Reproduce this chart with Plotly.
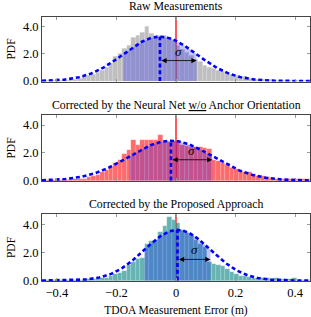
import numpy as np
import plotly.graph_objects as go

# ---- data ----
bin_width = 0.015
bin_centers = [round(-0.4425 + bin_width * i, 4) for i in range(60)]

raw_pdf = [0.02, 0.02, 0.03, 0.03, 0.05, 0.07, 0.10, 0.15, 0.20, 0.30,
           0.40, 0.50, 0.60, 0.80, 1.00, 1.30, 1.80, 2.00, 2.40, 2.60,
           3.20, 3.30, 3.55, 4.00, 3.45, 3.30, 3.30, 3.30, 3.15, 3.00,
           2.60, 2.30, 2.10, 1.90, 1.60, 1.40, 1.15, 1.00, 0.90, 0.80,
           0.70, 0.60, 0.50, 0.40, 0.35, 0.30, 0.20, 0.15, 0.12, 0.10,
           0.08, 0.08, 0.06, 0.05, 0.04, 0.03, 0.03, 0.02, 0.02, 0.02]

nn_pdf = [0.03, 0.03, 0.04, 0.04, 0.05, 0.06, 0.08, 0.10, 0.12, 0.15,
          0.25, 0.30, 0.40, 0.60, 0.75, 1.00, 1.30, 1.50, 1.90, 2.20,
          2.90, 2.55, 2.90, 2.90, 2.95, 2.95, 3.30, 2.80, 2.80, 2.85,
          2.75, 2.55, 2.50, 2.45, 2.40, 2.40, 2.35, 2.30, 1.50, 1.40,
          1.30, 1.10, 0.90, 0.80, 0.70, 0.60, 0.65, 0.45, 0.35, 0.30,
          0.25, 0.20, 0.15, 0.12, 0.10, 0.10, 0.08, 0.08, 0.10, 0.15]

prop_pdf = [0.01, 0.01, 0.02, 0.02, 0.02, 0.03, 0.03, 0.04, 0.05, 0.06,
            0.08, 0.10, 0.12, 0.15, 0.20, 0.30, 0.45, 0.55, 0.70, 1.10,
            1.30, 1.50, 1.60, 2.60, 2.80, 2.90, 3.45, 3.90, 4.50, 4.30,
            4.10, 3.60, 3.40, 3.20, 2.90, 2.60, 2.40, 1.30, 1.20, 1.10,
            1.00, 0.80, 0.60, 0.45, 0.35, 0.30, 0.25, 0.20, 0.20, 0.15,
            0.15, 0.12, 0.15, 0.10, 0.08, 0.10, 0.15, 0.05, 0.03, 0.02]

# fitted Gaussian parameters (mean, std)
fit_mu = [-0.054, -0.017, 0.005]
fit_sigma = [0.123, 0.139, 0.111]

titles = ["Raw Measurements",
          "Corrected by the Neural Net <u>w/o</u> Anchor Orientation",
          "Corrected by the Proposed Approach"]
bar_colors = ["rgba(128,128,128,0.5)", "rgba(255,0,0,0.58)", "rgba(0,128,128,0.6)"]
series = [raw_pdf, nn_pdf, prop_pdf]

x_ticks = [-0.4, -0.2, 0, 0.2, 0.4]
x_tick_text = ["\u22120.4", "\u22120.2", "0", "0.2", "0.4"]
y_ticks = [0, 2, 4]
y_tick_text = ["0.0", "2.0", "4.0"]

# ---- figure ----
W, H = 311, 317
mt, mb = 16, 36
ph = H - mt - mb
def frac(px):
    return 1 - (px - mt) / ph

domains = [[frac(81.5), frac(16.5)], [frac(181), frac(115)], [frac(281), frac(214)]]
yr = [-0.03, 4.72]
FONT = "Liberation Serif"

fig = go.Figure()

def gauss(x, mu, s):
    return np.exp(-0.5 * ((x - mu) / s) ** 2) / (s * np.sqrt(2 * np.pi))

for k in range(3):
    xa = "x" if k == 0 else f"x{k+1}"
    ya = "y" if k == 0 else f"y{k+1}"
    mu, s = fit_mu[k], fit_sigma[k]
    fig.add_trace(go.Bar(x=bin_centers, y=series[k], width=bin_width,
                         marker=dict(color=bar_colors[k],
                                     line=dict(width=0.5, color="rgba(255,255,255,0.35)")),
                         xaxis=xa, yaxis=ya, showlegend=False, hoverinfo="skip"))
    xf = np.linspace(mu - s, mu + s, 120)
    fig.add_trace(go.Scatter(x=xf, y=gauss(xf, mu, s), mode="lines", fill="tozeroy",
                             fillcolor="rgba(0,0,255,0.24)", line=dict(width=0),
                             xaxis=xa, yaxis=ya, showlegend=False, hoverinfo="skip"))
    xc = np.linspace(-0.45, 0.45, 300)
    fig.add_trace(go.Scatter(x=xc, y=gauss(xc, mu, s), mode="lines",
                             line=dict(color="#0000ff", width=2.6, dash="4px,2.8px"),
                             xaxis=xa, yaxis=ya, showlegend=False, hoverinfo="skip"))
    fig.add_trace(go.Scatter(x=[mu, mu], y=[0, gauss(mu, mu, s)], mode="lines",
                             line=dict(color="#0000ff", width=2.6, dash="4px,2.8px"),
                             xaxis=xa, yaxis=ya, showlegend=False, hoverinfo="skip"))
    # red zero line (beneath bars)
    fig.add_shape(type="line", x0=0, x1=0, y0=0, y1=1, xref=xa, yref=f"{ya} domain",
                  line=dict(color="#ff3030", width=1.6), layer="below")
    # sigma arrow
    fig.add_annotation(x=mu + s, y=1.5, ax=mu, ay=1.5, xref=xa, yref=ya, axref=xa, ayref=ya,
                       text="", showarrow=True, arrowhead=2, arrowside="end+start",
                       arrowwidth=0.8, arrowsize=1.3, arrowcolor="black")
    fig.add_annotation(x=mu + s / 2, y=1.5, xref=xa, yref=ya, text="<i>σ</i>",
                       showarrow=False, yanchor="bottom", yshift=0,
                       font=dict(family=FONT, size=13, color="black"))
    # subplot title
    fig.add_annotation(x=0.5, y=domains[k][1], xref="paper", yref="paper",
                       text=titles[k], showarrow=False, yanchor="bottom", yshift=1,
                       font=dict(family=FONT, size=11.8, color="black"))

axis_common = dict(showline=True, linecolor="#444", linewidth=1, mirror="ticks",
                   ticks="inside", ticklen=3, tickcolor="#999", tickwidth=0.8,
                   showgrid=False, zeroline=False,
                   tickfont=dict(family=FONT, size=12.5, color="black"))

layout = dict(width=W, height=H, margin=dict(l=42, r=1, t=mt, b=mb, autoexpand=False),
              plot_bgcolor="white", paper_bgcolor="white", barmode="overlay", bargap=0,
              showlegend=False)
for k in range(3):
    xkey = "xaxis" if k == 0 else f"xaxis{k+1}"
    ykey = "yaxis" if k == 0 else f"yaxis{k+1}"
    ya = "y" if k == 0 else f"y{k+1}"
    xa = "x" if k == 0 else f"x{k+1}"
    layout[xkey] = dict(axis_common, range=[-0.45, 0.45], domain=[0, 1], anchor=ya,
                        tickvals=x_ticks, ticktext=x_tick_text, automargin=False,
                        showticklabels=(k == 2))
    layout[ykey] = dict(axis_common, range=yr, domain=domains[k], anchor=xa,
                        tickvals=y_ticks, ticktext=y_tick_text, automargin=False,
                        title=dict(text="PDF", standoff=4,
                                   font=dict(family=FONT, size=11.5, color="black")))
layout["xaxis3"]["title"] = dict(text="TDOA Measurement Error (m)", standoff=6,
                                 font=dict(family=FONT, size=11.5, color="black"))
fig.update_layout(**layout)
fig.write_html("out.html", config={"displayModeBar": False},
               post_script="document.body.style.margin='0';")
